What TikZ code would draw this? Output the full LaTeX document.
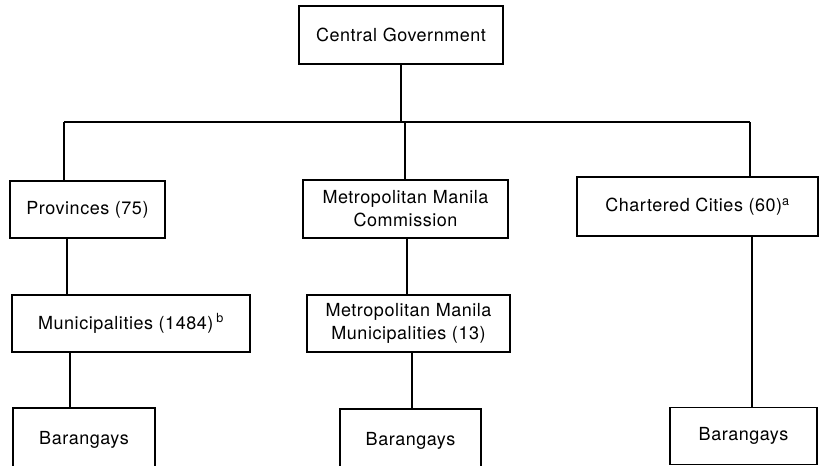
\documentclass[tikz,border=0pt]{standalone}
\usepackage{fontspec}
\setmainfont[LetterSpace=3]{TeX Gyre Heros}
\begin{document}
\begin{tikzpicture}[x=1pt,y=-1pt,
  box/.style={draw, line width=1.5pt, rectangle, inner sep=0pt, align=center,
    font=\fontsize{18}{23}\selectfont},
  conn/.style={line width=1.3pt}]
\useasboundingbox (0,0) rectangle (820,466);
\clip (0,0) rectangle (820,466);
\node[box, minimum width=204pt, minimum height=58pt] (cg) at (401,35) {Central Government};
\node[box, minimum width=155pt, minimum height=57pt] (prov) at (87.5,209.5) {Provinces (75)};
\node[box, minimum width=205pt, minimum height=58pt] (mmc) at (405.5,209) {Metropolitan Manila\\Commission};
\node[box, minimum width=241pt, minimum height=59pt] (cc) at (697.5,206.5) {Chartered Cities (60)\textsuperscript{a}};
\node[box, minimum width=238pt, minimum height=57pt] (mun) at (131,323.5) {Municipalities (1484)\,\textsuperscript{b}};
\node[box, minimum width=203pt, minimum height=57pt] (mmm) at (408.5,323.5) {Metropolitan Manila\\Municipalities (13)};
\node[box, minimum width=142pt, minimum height=64pt] (bl) at (84,440) {Barangays};
\node[box, minimum width=141pt, minimum height=64pt] (bm) at (410.5,441) {Barangays};
\node[box, minimum width=147pt, minimum height=57pt] (br) at (743.5,436) {Barangays};
\coordinate (jL) at (64,122);
\coordinate (jM) at (405,122);
\coordinate (jR) at (750,122);
\coordinate (p1) at (67,0);
\coordinate (p2) at (70,0);
\coordinate (m1) at (407,0);
\coordinate (m2) at (412,0);
\coordinate (r1) at (752,0);
\draw[conn] (cg.south) -- (cg.south |- jL);
\draw[conn] (jL) -- (jR);
\draw[conn] (jL) -- (jL |- prov.north);
\draw[conn] (jM) -- (jM |- mmc.north);
\draw[conn] (jR) -- (jR |- cc.north);
\draw[conn] (p1 |- prov.south) -- (p1 |- mun.north);
\draw[conn] (p2 |- mun.south) -- (p2 |- bl.north);
\draw[conn] (m1 |- mmc.south) -- (m1 |- mmm.north);
\draw[conn] (m2 |- mmm.south) -- (m2 |- bm.north);
\draw[conn] (r1 |- cc.south) -- (r1 |- br.north);
\end{tikzpicture}
\end{document}
